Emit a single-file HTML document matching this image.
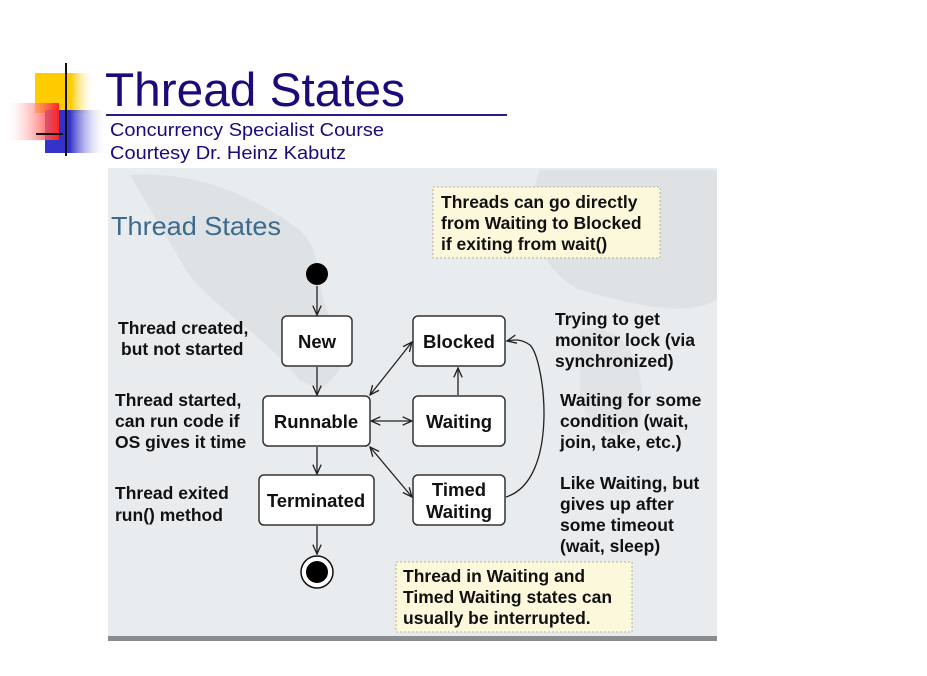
<!DOCTYPE html>
<html><head><meta charset="utf-8"><style>
body{margin:0;background:#fff;width:927px;height:676px;overflow:hidden;font-family:"Liberation Sans",sans-serif}
svg{display:block}
text{font-family:"Liberation Sans",sans-serif}
</style></head><body>
<svg width="927" height="676" viewBox="0 0 927 676">
<defs>
<linearGradient id="gy" x1="0" x2="1"><stop offset="0.6" stop-color="#ffcc00"/><stop offset="1" stop-color="#fff" stop-opacity="0"/></linearGradient>
<linearGradient id="gr" x1="1" x2="0"><stop offset="0" stop-color="#ff2020"/><stop offset="1" stop-color="#fff" stop-opacity="0.3"/></linearGradient>
<linearGradient id="gb" x1="0" x2="1"><stop offset="0.4" stop-color="#3333cc"/><stop offset="1" stop-color="#fff" stop-opacity="0"/></linearGradient>
<marker id="ar" viewBox="0 0 10 10" refX="9" refY="5" markerWidth="8" markerHeight="8" orient="auto-start-reverse"><path d="M0,1 L9,5 L0,9" fill="none" stroke="#222" stroke-width="1.3"/></marker>
</defs>
<g>
<rect x="35" y="73" width="60" height="40" fill="url(#gy)"/>
<rect x="45" y="110" width="62" height="43" fill="url(#gb)"/>
<rect x="9" y="103" width="50" height="37" fill="url(#gr)"/>
<line x1="66" y1="63" x2="66" y2="156" stroke="#111" stroke-width="2"/>
<line x1="36" y1="134" x2="63" y2="134" stroke="#111" stroke-width="2"/>
</g>
<text x="105" y="106" font-size="47" textLength="300" lengthAdjust="spacingAndGlyphs" fill="#1a0a7a">Thread States</text>
<line x1="106" y1="115" x2="507" y2="115" stroke="#2a1a8a" stroke-width="2"/>
<text x="110" y="136" font-size="18.5" textLength="274" lengthAdjust="spacingAndGlyphs" fill="#1a0a7a">Concurrency Specialist Course</text>
<text x="110" y="159" font-size="18.5" textLength="236" lengthAdjust="spacingAndGlyphs" fill="#1a0a7a">Courtesy Dr. Heinz Kabutz</text>

<g>
<rect x="108" y="168" width="609" height="472" fill="#e9ecef"/>
<path d="M130,175 C200,170 260,200 300,230 C330,260 310,300 340,330 C360,360 330,380 320,390 L300,380 C260,330 200,300 180,260 Z" fill="#dfe2e5"/>
<path d="M540,170 L717,170 L717,300 C680,320 620,300 580,290 C540,270 520,220 540,170Z" fill="#dfe2e5"/>
<path d="M580,330 C620,320 650,360 640,420 C620,450 590,430 580,400Z" fill="#e1e4e7"/>
<rect x="108" y="636" width="609" height="5" fill="#8a8d90"/>
<text x="111" y="235" font-size="26" textLength="170" lengthAdjust="spacingAndGlyphs" fill="#3c6a8c">Thread States</text>

<g font-weight="bold" font-size="17.5" fill="#111">
<rect x="433" y="187" width="227" height="71" fill="#fbf8dc" stroke="#b8b48a" stroke-dasharray="2,2"/>
<text x="441" y="208">Threads can go directly</text>
<text x="441" y="229">from Waiting to Blocked</text>
<text x="441" y="250">if exiting from wait()</text>
<rect x="396" y="562" width="236" height="70" fill="#fbf8dc" stroke="#b8b48a" stroke-dasharray="2,2"/>
<text x="403" y="582">Thread in Waiting and</text>
<text x="403" y="603">Timed Waiting states can</text>
<text x="403" y="624">usually be interrupted.</text>

<text x="118" y="334">Thread created,</text>
<text x="121" y="355">but not started</text>
<text x="115" y="406">Thread started,</text>
<text x="115" y="427">can run code if</text>
<text x="115" y="448">OS gives it time</text>
<text x="115" y="499">Thread exited</text>
<text x="115" y="521">run() method</text>
<text x="555" y="325">Trying to get</text>
<text x="555" y="346">monitor lock (via</text>
<text x="555" y="367">synchronized)</text>
<text x="560" y="406">Waiting for some</text>
<text x="560" y="427">condition (wait,</text>
<text x="560" y="448">join, take, etc.)</text>
<text x="560" y="489">Like Waiting, but</text>
<text x="560" y="510">gives up after</text>
<text x="560" y="531">some timeout</text>
<text x="560" y="552">(wait, sleep)</text>
</g>

<g stroke="#222" stroke-width="1.3" fill="none" marker-end="url(#ar)">
<line x1="317" y1="286" x2="317" y2="315"/>
<line x1="317" y1="367" x2="317" y2="395"/>
<line x1="317" y1="447" x2="317" y2="474"/>
<line x1="317" y1="526" x2="317" y2="554"/>
<line x1="458" y1="395" x2="458" y2="368"/>
<line x1="371" y1="421" x2="412" y2="421" marker-start="url(#ar)"/>
<line x1="370" y1="395" x2="412" y2="342" marker-start="url(#ar)"/>
<line x1="370" y1="447" x2="412" y2="497" marker-start="url(#ar)"/>
<path d="M506,497 C560,480 545,360 530,345 C520,338 512,340 507,341"/>
</g>
<g font-weight="bold" font-size="18.5" fill="#111" text-anchor="middle" stroke-width="1.5">
<rect x="282" y="316" width="70" height="50" rx="5" fill="#fff" stroke="#333"/>
<text x="317" y="348">New</text>
<rect x="413" y="316" width="92" height="50" rx="5" fill="#fff" stroke="#333"/>
<text x="459" y="348">Blocked</text>
<rect x="263" y="396" width="107" height="50" rx="5" fill="#fff" stroke="#333"/>
<text x="316" y="428">Runnable</text>
<rect x="413" y="396" width="92" height="50" rx="5" fill="#fff" stroke="#333"/>
<text x="459" y="428">Waiting</text>
<rect x="259" y="475" width="115" height="50" rx="5" fill="#fff" stroke="#333"/>
<text x="316" y="507">Terminated</text>
<rect x="413" y="475" width="92" height="50" rx="5" fill="#fff" stroke="#333"/>
<text x="459" y="496">Timed</text>
<text x="459" y="518">Waiting</text>
</g>
<circle cx="317" cy="274" r="11" fill="#000"/>
<circle cx="317" cy="572" r="16" fill="#fff" stroke="#111" stroke-width="1.5"/>
<circle cx="317" cy="572" r="11" fill="#000"/>
</g>
</svg>
</body></html>
